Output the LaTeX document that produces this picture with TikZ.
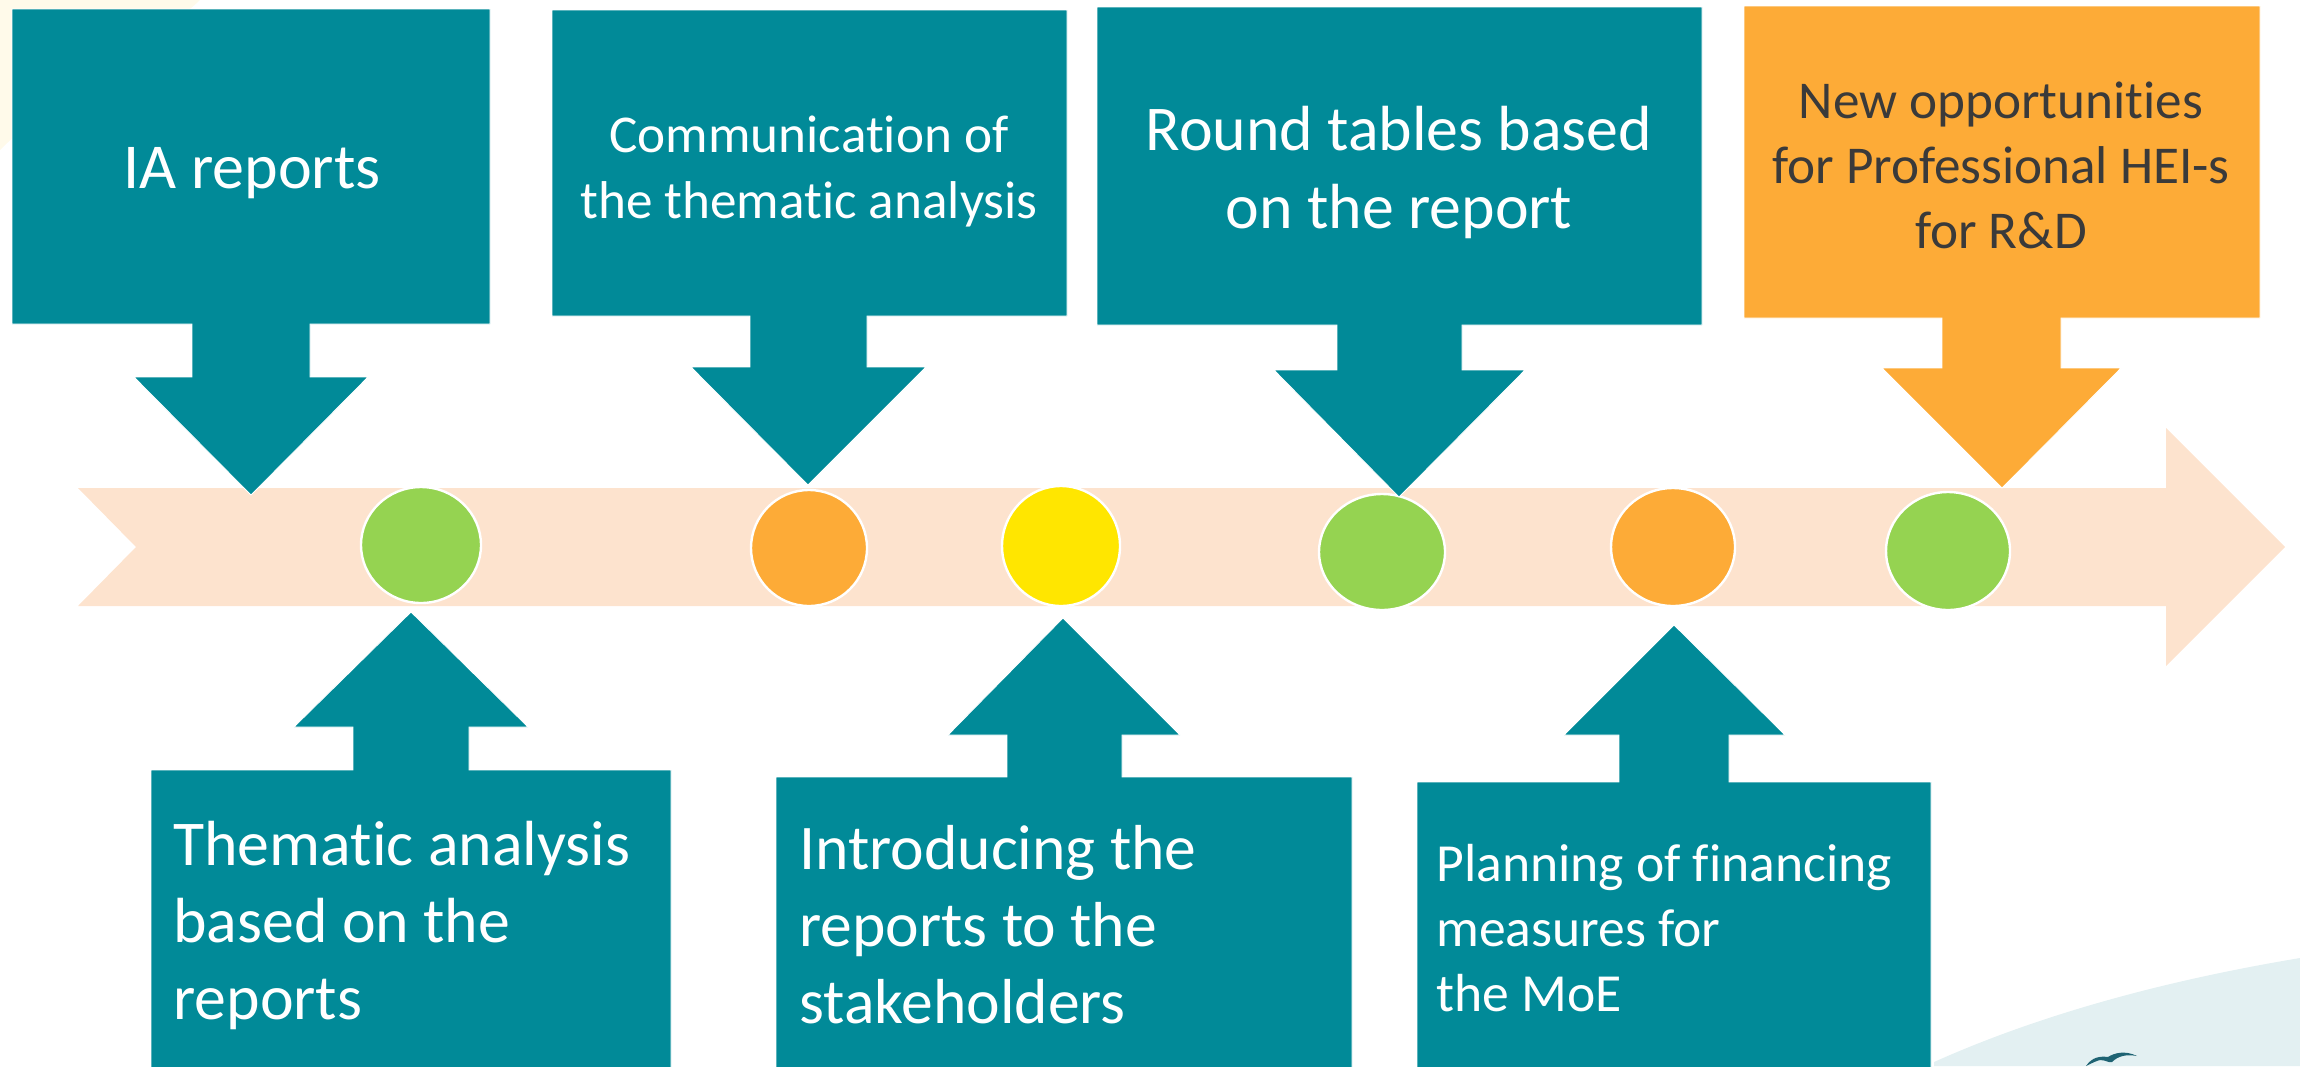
\documentclass[tikz,border=0pt]{standalone}
\usepackage{fontspec}
\setmainfont[Ligatures=NoCommon]{Carlito}
\definecolor{teal}{HTML}{018A98}
\definecolor{orng}{HTML}{FDAB37}
\definecolor{peach}{HTML}{FDE3CE}
\definecolor{grn}{HTML}{95D351}
\definecolor{yel}{HTML}{FFE600}
\definecolor{inktext}{HTML}{3A3A3A}
\definecolor{paleteal}{HTML}{E3F0F2}
\definecolor{cream}{HTML}{FFFAEA}
\definecolor{birdc}{HTML}{1E6373}
\tikzset{
  x=0.5pt,y=-0.5pt,
  tealshape/.style={fill=teal,draw=white,line width=0.4pt,line join=miter},
  orngshape/.style={fill=orng,draw=white,line width=0.4pt,line join=miter},
  dot/.style={draw=white,line width=1.2pt},
  lbl/.style={text=white,inner sep=0pt,align=center},
  lblleft/.style={text=white,inner sep=0pt,align=left,anchor=west},
}
\begin{document}
\begin{tikzpicture}
\useasboundingbox (0,0) rectangle (2300,1066);
% faint background corners
\fill[cream] (0,0) -- (200,0) .. controls (170,30) and (60,90) .. (0,150) -- cycle;
\fill[paleteal] (1934,1066) -- (1934,1062) .. controls (2050,1010) and (2180,978) .. (2300,958) -- (2300,1066) -- cycle;
\fill[birdc] (2086,1066) .. controls (2092,1057) and (2100,1056) .. (2108,1057) .. controls (2114,1053) and (2125,1050) .. (2137,1056) .. controls (2126,1054) and (2118,1056) .. (2112,1062) .. controls (2108,1063) and (2106,1060) .. (2100,1060) .. controls (2096,1061) and (2092,1063) .. (2086,1066) -- cycle;
% main arrow
\fill[peach] (78,488) -- (2166,488) -- (2166,428) -- (2285,547) -- (2166,666) -- (2166,606) -- (78,606) -- (136,547) -- cycle;
% dots
\draw[dot,fill=grn] (421,545) ellipse [x radius=60,y radius=58];
\draw[dot,fill=orng] (809,548) ellipse [x radius=58,y radius=58];
\draw[dot,fill=yel] (1061,546) ellipse [x radius=59,y radius=60];
\draw[dot,fill=grn] (1382,552) ellipse [x radius=63,y radius=58];
\draw[dot,fill=orng] (1673,547) ellipse [x radius=62,y radius=59];
\draw[dot,fill=grn] (1948,551) ellipse [x radius=62,y radius=59];
% top callouts
\draw[tealshape] (12,9) -- (490,9) -- (490,324) -- (310,324) -- (310,377) -- (368,377) -- (251,495) -- (134,377) -- (192,377) -- (192,324) -- (12,324) -- cycle;
\draw[tealshape] (552,10) -- (1067,10) -- (1067,316) -- (867,316) -- (867,367) -- (926,367) -- (808,485) -- (691,367) -- (750,367) -- (750,316) -- (552,316) -- cycle;
\draw[tealshape] (1097,7) -- (1702,7) -- (1702,325) -- (1462,325) -- (1462,370) -- (1525,370) -- (1399,497) -- (1274,370) -- (1337,370) -- (1337,325) -- (1097,325) -- cycle;
\draw[orngshape] (1744,6) -- (2260,6) -- (2260,318) -- (2061,318) -- (2061,368) -- (2121,368) -- (2002,488) -- (1882,368) -- (1942,368) -- (1942,318) -- (1744,318) -- cycle;
% bottom callouts
\draw[tealshape] (151,1068) -- (151,770) -- (353,770) -- (353,727) -- (294,727) -- (411,612) -- (528,727) -- (469,727) -- (469,770) -- (671,770) -- (671,1068) -- cycle;
\draw[tealshape] (776,1068) -- (776,777) -- (1007,777) -- (1007,735) -- (948,735) -- (1063,618) -- (1180,735) -- (1122,735) -- (1122,777) -- (1352,777) -- (1352,1068) -- cycle;
\draw[tealshape] (1417,1068) -- (1417,782) -- (1619,782) -- (1619,735) -- (1564,735) -- (1674,625) -- (1785,735) -- (1729,735) -- (1729,782) -- (1931,782) -- (1931,1068) -- cycle;
% labels
\node[lbl,font=\fontsize{32}{33}\selectfont] (t1) at (252,173) {IA reports};
\node[lbl,font=\fontsize{26.6}{33}\selectfont] (t2) at (809,171) {Communication of\\the thematic analysis};
\node[lbl,font=\fontsize{31.9}{39}\selectfont] (t3) at (1399,172) {Round tables based\\on the report};
\node[lbl,text=inktext,font=\fontsize{26.6}{32.5}\selectfont] (t4) at (2001,165) {New opportunities\\for Professional HEI-s\\for R\&D};
\node[lblleft,font=\fontsize{31.9}{38.5}\selectfont] (t5) at (173,925) {Thematic analysis\\based on the\\reports};
\node[lblleft,font=\fontsize{31.8}{38.5}\selectfont] (t6) at (799,925) {Introducing the\\reports to the\\stakeholders};
\node[lblleft,font=\fontsize{26.8}{32.5}\selectfont] (t7) at (1436,928) {Planning of financing\\measures for\\the MoE};
\end{tikzpicture}
\end{document}
